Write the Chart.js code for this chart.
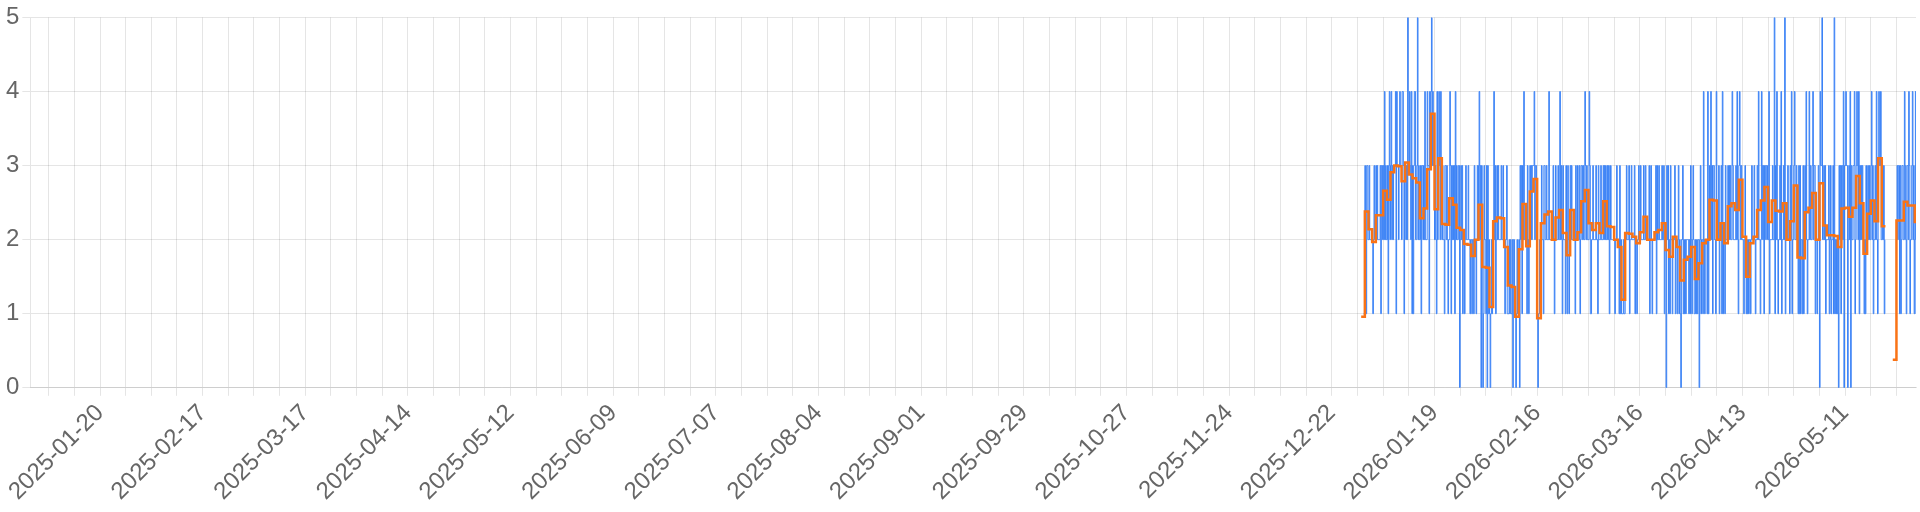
<!DOCTYPE html>
<html>
<head>
<meta charset="utf-8">
<style>
  html, body { margin: 0; padding: 0; background: #fff; }
  #wrap { width: 1920px; height: 512px; }
</style>
</head>
<body>
<div id="wrap"><canvas id="chart"></canvas></div>
<script src="https://cdn.jsdelivr.net/npm/chart.js@4/dist/chart.umd.min.js"></script>
<script>
// x range and labelled ticks (weekly grid, every 4th Monday labelled)
const rangeStart = '2025-01-01';
const rangeEnd = '2026-05-30T08:00';
const tickLabels = [
  '2025-01-20', '2025-02-17', '2025-03-17', '2025-04-14', '2025-05-12', '2025-06-09',
  '2025-07-07', '2025-08-04', '2025-09-01', '2025-09-29', '2025-10-27', '2025-11-24',
  '2025-12-22', '2026-01-19', '2026-02-16', '2026-03-16', '2026-04-13', '2026-05-11'
];

// daily average (orange), one value per day from avgStart, null = no data
const avgStart = '2025-12-30';
const avgValues = [
  0.96, 2.38, 2.14, 1.97, 2.33, 2.33, 2.66, 2.54, 2.91, 3.00, 2.99, 2.79, 3.04, 2.88,
  2.83, 2.77, 2.29, 2.42, 2.95, 3.70, 2.41, 3.10, 2.21, 2.20, 2.56, 2.47, 2.16, 2.13,
  1.94, 1.93, 1.78, 2.00, 2.47, 1.63, 1.62, 1.09, 2.25, 2.30, 2.29, 1.90, 1.38, 1.36,
  0.96, 1.87, 2.48, 1.91, 2.65, 2.82, 0.94, 2.22, 2.34, 2.38, 2.00, 2.30, 2.40, 2.09,
  1.79, 2.40, 2.00, 2.10, 2.52, 2.67, 2.22, 2.13, 2.22, 2.09, 2.52, 2.18, 2.17, 2.00,
  1.90, 1.19, 2.09, 2.08, 2.04, 1.95, 2.10, 2.31, 2.00, 2.00, 2.10, 2.13, 2.22, 1.86,
  1.77, 2.04, 1.90, 1.45, 1.73, 1.77, 1.90, 1.47, 1.68, 1.95, 2.00, 2.54, 2.53, 2.00,
  2.22, 1.95, 2.45, 2.49, 2.40, 2.81, 2.04, 1.50, 1.95, 2.04, 2.40, 2.53, 2.71, 2.24,
  2.53, 2.39, 2.38, 2.49, 2.00, 2.25, 2.73, 1.76, 1.75, 2.37, 2.43, 2.63, 2.00, 2.76,
  2.19, 2.06, 2.06, 2.05, 1.90, 2.42, 2.43, 2.31, 2.43, 2.86, 2.49, 1.81, 2.35, 2.53,
  2.25, 3.10, 2.18, 2.18, null, 0.38, 2.26, 2.26, 2.51, 2.46, 2.46, 2.24, 2.24
];

// individual readings (blue), every 4 hours from eventStart, one string per day, '-' = no data
const eventStart = '2025-12-30T16:00';
const eventStepHours = 4;
const eventDays = [
  '11',
  '321332', '232222', '212322', '323222', '231332', '324232', '231342', '342323', '334143', '323433',
  '244313', '323253', '343241', '313442', '235232', '231332', '324222', '433143', '453433', '232142',
  '343243', '232213', '323212', '243132', '323142', '322330', '232312', '212322', '232212', '212213',
  '221232', '342303', '201322', '130312', '101212', '242312', '323222', '232232', '212231', '112121',
  '120221', '101211', '203231', '324222', '213212', '323233', '342332', '101121', '232213', '322322',
  '242222', '223212', '322232', '242321', '322213', '213212', '323222', '221322', '322312', '332322',
  '432322', '243112', '232222', '322132', '223222', '323232', '232312', '322222', '212232', '221312',
  '111211', '223222', '312232', '222312', '212232', '232222', '322322', '222312', '321222', '223132',
  '232222', '322312', '203231', '213221', '222312', '212312', '102231', '212122', '221213', '212321',
  '121212', '202312', '214212', '221412', '324231', '332214', '222312', '231412', '213222', '323232',
  '243222', '232421', '343232', '221232', '121212', '212322', '232122', '324221', '243231', '332332',
  '241222', '232251', '324212', '232412', '232512', '223221', '324122', '342232', '213131', '221312',
  '324212', '242322', '342331', '221232', '043352', '232312', '222312', '312231', '512121', '203231',
  '332403', '343302', '324032', '233412', '343241', '323232', '212132', '232322', '342312', '232421',
  '343342', '232312', '------', '------', '------', '232331', '312332', '243213', '324312', '234231',
  '241321'
];

const DAY = 86400000;
const ts = s => Date.parse(s.length === 10 ? s + 'T00:00:00Z' : s + ':00Z');
const isoDay = v => new Date(v).toISOString().slice(0, 10);

const avgPoints = avgValues.map((v, i) => ({ x: ts(avgStart) + i * DAY, y: v }));
const eventPoints = eventDays.join('').split('').map((c, i) => ({
  x: ts(eventStart) + i * eventStepHours * 3600000,
  y: c === '-' ? null : Number(c)
}));

Chart.defaults.font.size = 24;
Chart.defaults.color = '#666';

new Chart(document.getElementById('chart').getContext('2d'), {
  type: 'line',
  data: {
    datasets: [
      {
        label: 'Average',
        data: avgPoints,
        borderColor: '#f97316',
        borderWidth: 2.5,
        pointRadius: 0,
        stepped: true,
        spanGaps: false,
      },
      {
        label: 'Readings',
        data: eventPoints,
        borderColor: '#3b82f6',
        borderWidth: 1,
        pointRadius: 0,
        stepped: true,
        spanGaps: false,
      }
    ]
  },
  options: {
    responsive: true, maintainAspectRatio: false, animation: false,
    layout: { padding: { top: 4, right: 4, bottom: 3, left: 3 } },
    plugins: { legend: { display: false }, tooltip: { enabled: false } },
    scales: {
      x: {
        type: 'linear',
        min: ts(rangeStart),
        max: ts(rangeEnd),
        afterBuildTicks: scale => {
          const start = new Date(scale.min);
          let t = scale.min + ((8 - start.getUTCDay()) % 7) * DAY;
          const ticks = [];
          for (; t <= scale.max; t += 7 * DAY) ticks.push({ value: t });
          scale.ticks = ticks;
        },
        ticks: {
          autoSkip: false, minRotation: 45, maxRotation: 45,
          callback: v => tickLabels.includes(isoDay(v)) ? isoDay(v) : ''
        }
      },
      y: {
        min: 0, max: 5,
        ticks: { stepSize: 1 }
      }
    }
  }
});
</script>
</body>
</html>
